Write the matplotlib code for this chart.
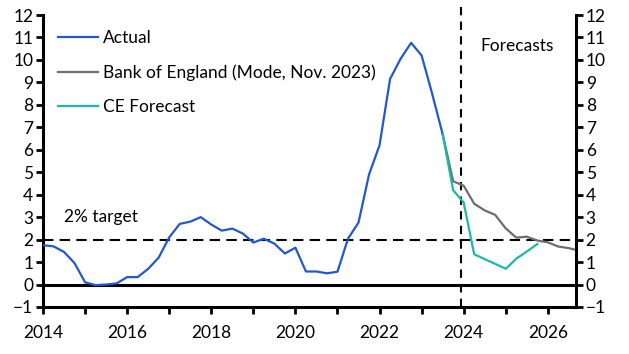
import numpy as np
import matplotlib
matplotlib.use("Agg")
import matplotlib.pyplot as plt

plt.rcParams['font.family'] = ['Lato', 'DejaVu Sans']

# ---------------------------------------------------------------------
# quarterly data, % y/y
actual_start = 2014.0
actual = [1.75, 1.7, 1.45, 0.95,
          0.1, -0.03, 0.0, 0.05,
          0.33, 0.33, 0.7, 1.2,
          2.1, 2.7, 2.8, 3.0,
          2.67, 2.4, 2.49, 2.27,
          1.87, 2.04, 1.82, 1.38,
          1.64, 0.58, 0.58, 0.5,
          0.57, 2.04, 2.76, 4.9,
          6.2, 9.15, 10.05, 10.76,
          10.2, 8.5, 6.7]

fc_start = 2023.5
boe = [6.7, 4.6, 4.4, 3.6, 3.3, 3.1, 2.5, 2.09, 2.13, 1.96, 1.88, 1.69, 1.62, 1.5]
ce = [6.7, 4.2, 3.65, 1.35, 1.13, 0.92, 0.7, 1.15, 1.47, 1.8]

x_actual = actual_start + 0.25 * np.arange(len(actual))
x_boe = fc_start + 0.25 * np.arange(len(boe))
x_ce = fc_start + 0.25 * np.arange(len(ce))

blue = '#2158d0'
grey = '#6e6e6e'
teal = '#1cb8a8'

fig = plt.figure(figsize=(6.29, 3.54), dpi=100)
ax = fig.add_axes([0.0684, 0.1328, 0.9157 - 0.0684, 0.9576 - 0.1328])

ax.axhline(0, color='black', lw=2.2, zorder=1)
ax.axhline(2, color='black', lw=1.5, ls=(0, (5, 3)), zorder=1)
# forecast divider, runs a bit above the plot area like the original
ax.axvline(2023.93, ymin=0, ymax=1.03, clip_on=False, color='black', lw=1.5,
           ls=(0, (4, 3)), zorder=1)

ax.plot(x_actual, actual, color=blue, lw=1.6, label='Actual', zorder=3)
ax.plot(x_boe, boe, color=grey, lw=1.6, label='Bank of England (Mode, Nov. 2023)', zorder=2)
ax.plot(x_ce, ce, color=teal, lw=1.6, label='CE Forecast', zorder=3)

ax.set_xlim(2014, 2026.67)
ax.set_ylim(-1, 12)
ax.set_yticks(range(-1, 13))
ax.set_xticks(range(2014, 2027, 2))
ax.set_xticks(range(2014, 2027), minor=True)

ax2 = ax.twinx()
ax2.set_ylim(-1, 12)
ax2.set_yticks(range(-1, 13))

for a in (ax, ax2):
    a.spines['top'].set_visible(False)
    for s in a.spines.values():
        s.set_linewidth(2.2)
    a.tick_params(axis='both', which='both', width=2, length=5, labelsize=12.5, pad=2)
ax.spines['right'].set_visible(False)
ax2.spines['left'].set_visible(False)
ax2.spines['bottom'].set_visible(False)
ax.tick_params(axis='x', pad=8)

ax.text(2014.5, 3.0, '2% target', fontsize=12.5, va='center')
ax.text(2024.4, 10.6, 'Forecasts', fontsize=12.5, va='center')

ax.legend(loc='upper left', bbox_to_anchor=(0.0, 1.0), frameon=False, fontsize=12.5,
          handlelength=2.3, handletextpad=0.3, labelspacing=1.05, borderaxespad=0.47)

fig.savefig('out.png', dpi=100)
